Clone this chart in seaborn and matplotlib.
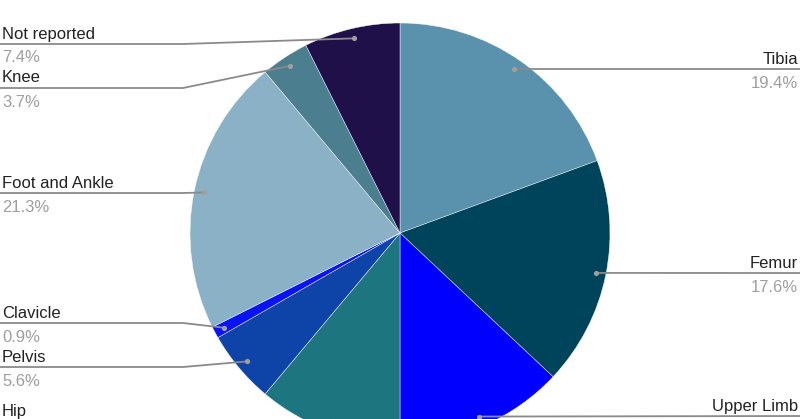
import numpy as np
import matplotlib
matplotlib.use("Agg")
import matplotlib.pyplot as plt
import seaborn as sns

# data (clockwise from 12 o'clock)
regions = ["Tibia", "Femur", "Upper Limb", "Hip", "Pelvis", "Clavicle",
           "Foot and Ankle", "Knee", "Not reported"]
shares = [19.4, 17.6, 13.0, 11.1, 5.6, 0.9, 21.3, 3.7, 7.4]
slice_colors = ["#5a92ae", "#00445c", "#0000ff", "#1d7580", "#0e44a8",
                "#0a14f2", "#8ab1c5", "#4b7e8e", "#1f104a"]

# layout (pixel coords, y down)
CX, CY, R = 400, 233, 210
DOT_R = 200
W, H = 800, 419
label_line_y = {"Tibia": 69, "Femur": 273, "Upper Limb": 416, "Hip": 421,
                "Pelvis": 367, "Clavicle": 323, "Foot and Ankle": 193,
                "Knee": 88, "Not reported": 44}
BEND_X = 183

sns.set_theme(style="white")
plt.rcParams["font.family"] = ["Liberation Sans", "DejaVu Sans"]
palette = sns.color_palette(slice_colors)

fig = plt.figure(figsize=(W / 100, H / 100), dpi=100)
ax = fig.add_axes([0, 0, 1, 1])

# y axis inverted -> counterclockwise in data = clockwise on screen
wedges, _ = ax.pie(shares, colors=palette, startangle=-90, counterclock=True,
                   center=(CX, CY), radius=R,
                   wedgeprops=dict(edgecolor="white", linewidth=0.3))
ax.set_xlim(0, W)
ax.set_ylim(H, 0)
ax.set_aspect("equal")
ax.axis("off")

line_kw = dict(color="#8a8a8a", lw=1.3, zorder=3)
for wedge, name, val in zip(wedges, regions, shares):
    mid = np.deg2rad((wedge.theta1 + wedge.theta2) / 2)
    dx, dy = CX + DOT_R * np.cos(mid), CY + DOT_R * np.sin(mid)
    ly = label_line_y[name]
    if dx > CX:
        ax.plot([dx, W], [dy, ly], **line_kw)
        tx, ha = W - 2, "right"
    else:
        if abs(ly - dy) > 0.5:
            ax.plot([dx, BEND_X, 0], [dy, ly, ly], **line_kw)
        else:
            ax.plot([dx, 0], [dy, ly], **line_kw)
        tx, ha = 2, "left"
    ax.scatter([dx], [dy], s=14, color="#a0a0a0", zorder=4, linewidths=0)
    ax.text(tx, ly - 5.5, name, ha=ha, va="baseline", fontsize=12,
            color="#222222")
    # the chart is cropped at the bottom: percentages below the edge are not shown
    if ly + 6 < H:
        ax.text(tx, ly + 18.5, f"{val:.1f}%", ha=ha, va="baseline",
                fontsize=12, color="#9e9e9e")

fig.savefig("out.png", dpi=100)
